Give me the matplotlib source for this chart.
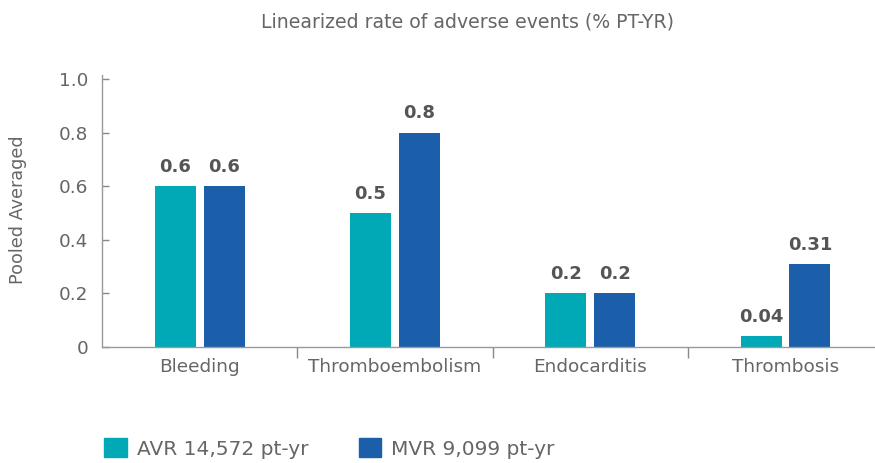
import matplotlib.pyplot as plt
from matplotlib.patches import Patch
import numpy as np

# adverse event categories and pooled linearized rates (% pt-yr)
categories = ["Bleeding", "Thromboembolism", "Endocarditis", "Thrombosis"]
avr_rates = [0.6, 0.5, 0.2, 0.04]
mvr_rates = [0.6, 0.8, 0.2, 0.31]
avr_labels = ["0.6", "0.5", "0.2", "0.04"]
mvr_labels = ["0.6", "0.8", "0.2", "0.31"]
series_names = ["AVR 14,572 pt-yr", "MVR 9,099 pt-yr"]
yticks = [0, 0.2, 0.4, 0.6, 0.8, 1.0]
ytick_labels = ["0", "0.2", "0.4", "0.6", "0.8", "1.0"]

teal = "#00a9b5"
blue = "#1b5fab"
grey = "#666666"

plt.rcParams['font.family'] = ['DejaVu Sans']

fig = plt.figure(figsize=(8.75, 4.63), dpi=100)
ax = fig.add_axes([0.1166, 0.2505, 0.8926, 0.5875])

x = np.arange(len(categories))
w = 0.21
off = 0.125
ax.bar(x - off, avr_rates, w, color=teal)
ax.bar(x + off, mvr_rates, w, color=blue)

for xi, v, s in zip(x - off, avr_rates, avr_labels):
    ax.text(xi, v + 0.038, s, ha="center", va="bottom", fontsize=13,
            fontweight="bold", color="#555555")
for xi, v, s in zip(x + off, mvr_rates, mvr_labels):
    ax.text(xi, v + 0.038, s, ha="center", va="bottom", fontsize=13,
            fontweight="bold", color="#555555")

ax.set_xlim(-0.5, 3.5)
ax.set_ylim(0, 1.015)
ax.set_yticks(yticks)
ax.set_yticklabels(ytick_labels)
ax.set_xticks(x)
ax.set_xticklabels(categories)
ax.set_xticks([0.5, 1.5, 2.5], minor=True)
ax.tick_params(axis="x", which="major", length=0, pad=8, labelsize=13.3, labelcolor=grey)
ax.tick_params(axis="x", which="minor", length=8, width=1, color="#888888")
ax.tick_params(axis="y", direction="in", length=5, width=1, color="#888888", pad=10,
               labelsize=13.3, labelcolor=grey)

for side in ["top", "right"]:
    ax.spines[side].set_visible(False)
for side in ["left", "bottom"]:
    ax.spines[side].set_color("#999999")
    ax.spines[side].set_linewidth(1)

fig.text(18 / 875, 0.5464, "Pooled Averaged", rotation=90, ha="center", va="center",
         fontsize=12.7, color=grey)
fig.text(0.534, 0.952, "Linearized rate of adverse events (% PT-YR)",
         ha="center", va="center", fontsize=13.6, color=grey)

handles = [Patch(color=teal), Patch(color=blue)]
fig.legend(handles, series_names, loc="center left", bbox_to_anchor=(0.119, 0.032),
           ncol=2, frameon=False, fontsize=14.5, labelcolor=grey,
           handlelength=1.12, handleheight=1.12, handletextpad=0.5,
           columnspacing=2.5, borderaxespad=0, borderpad=0)

fig.savefig("out.png", dpi=100)
